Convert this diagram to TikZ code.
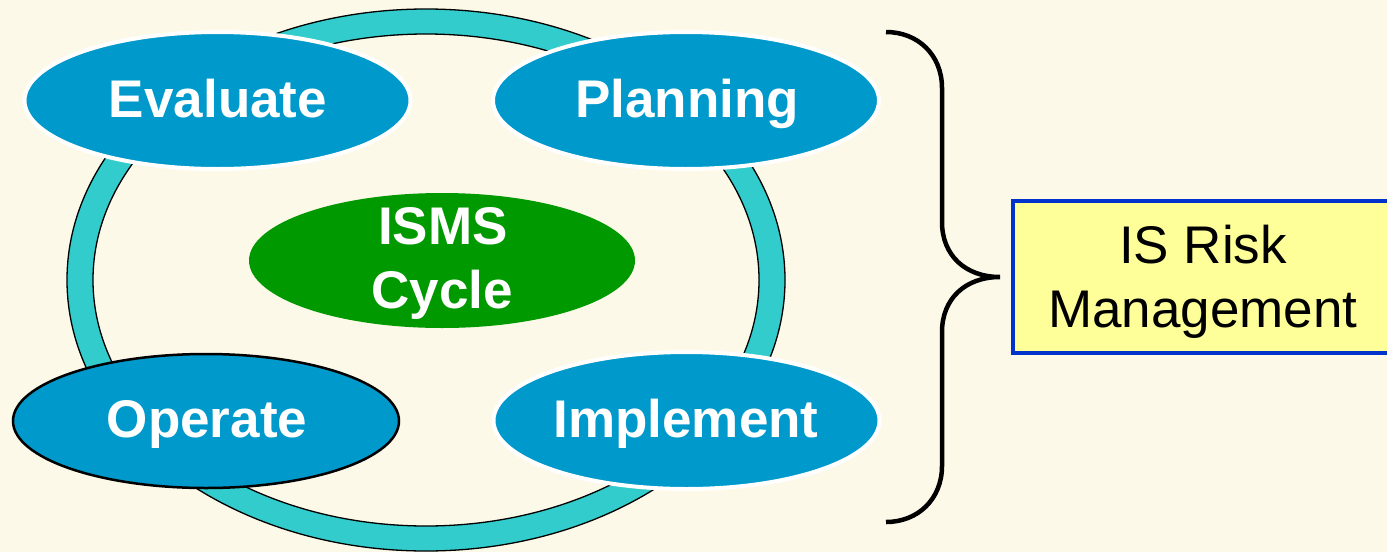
\documentclass[tikz,border=0pt]{standalone}
\usepackage{fontspec}
\setmainfont{Liberation Sans}
\usetikzlibrary{shapes.geometric}

\definecolor{paper}{HTML}{FDF9E9}
\definecolor{ringteal}{HTML}{33CCCC}
\definecolor{phaseblue}{HTML}{0099CC}
\definecolor{cyclegreen}{HTML}{009900}
\definecolor{notefill}{HTML}{FFFF99}
\definecolor{noteedge}{HTML}{0033CC}

\tikzset{
  phase/.style={ellipse, fill=phaseblue, draw=white, line width=4pt,
    minimum width=386pt, minimum height=137pt, inner sep=0pt},
  phaselabel/.style={anchor=base, text=white, inner sep=0pt,
    font=\fontsize{53}{64}\selectfont\bfseries},
  core/.style={ellipse, fill=cyclegreen, minimum width=386pt,
    minimum height=135pt, inner sep=0pt},
  notebox/.style={rectangle, fill=notefill, draw=noteedge, line width=3.5pt,
    minimum width=380pt, minimum height=152pt, inner sep=0pt},
  notelabel/.style={anchor=base, text=black, inner sep=0pt,
    font=\fontsize{53}{64}\selectfont},
  cycle ring/.style={fill=ringteal, draw=black, line width=1.3pt, even odd rule},
  bracestroke/.style={draw=black, line width=4.5pt}
}

\begin{document}
\begin{tikzpicture}[x=1pt, y=-1pt]
  % page
  \fill[paper] (0,0) rectangle (1387,552);
  \useasboundingbox (0,0) rectangle (1387,552);

  % the cycle ring
  \path[cycle ring]
    (426,280) ellipse [x radius=359, y radius=271]
    (426,280) ellipse [x radius=333, y radius=246];

  % centre of the cycle
  \node[core] (isms) at (442,260.5) {};
  \node[phaselabel] (isms-l1) at (443,244) {ISMS};
  \node[phaselabel] (isms-l2) at (442,308) {Cycle};

  % the four phases
  \node[phase] (evaluate) at (217.5,100.5) {};
  \node[phaselabel] (evaluate-t) at (218,117) {Evaluate};

  \node[phase] (planning) at (686,100.5) {};
  \node[phaselabel] (planning-t) at (687,117) {Planning};

  \node[phase, draw=black, line width=2.5pt,
        minimum width=386pt, minimum height=134pt] (operate) at (206,421) {};
  \node[phaselabel] (operate-t) at (207,437) {Operate};

  \node[phase] (implement) at (686.5,420.5) {};
  \node[phaselabel] (implement-t) at (686,437) {Implement};

  % brace gathering the cycle
  \coordinate (brace-top) at (886,32);
  \coordinate (brace-tip) at (1000,277);
  \coordinate (brace-bot) at (886,522);
  \path[bracestroke, line cap=butt]
    (brace-top) .. controls (918,32) and (942,55) .. (942,88)
    -- (942,222)
    .. controls (942,255) and (965,277) .. (brace-tip)
    .. controls (965,277) and (942,299) .. (942,332)
    -- (942,466)
    .. controls (942,499) and (918,522) .. (brace-bot);

  % what the cycle amounts to
  \node[notebox] (risk) at (1203,277) {};
  \node[notelabel] (risk-l1) at (1203,263) {IS Risk};
  \node[notelabel] (risk-l2) at (1203,327) {Management};
\end{tikzpicture}
\end{document}
